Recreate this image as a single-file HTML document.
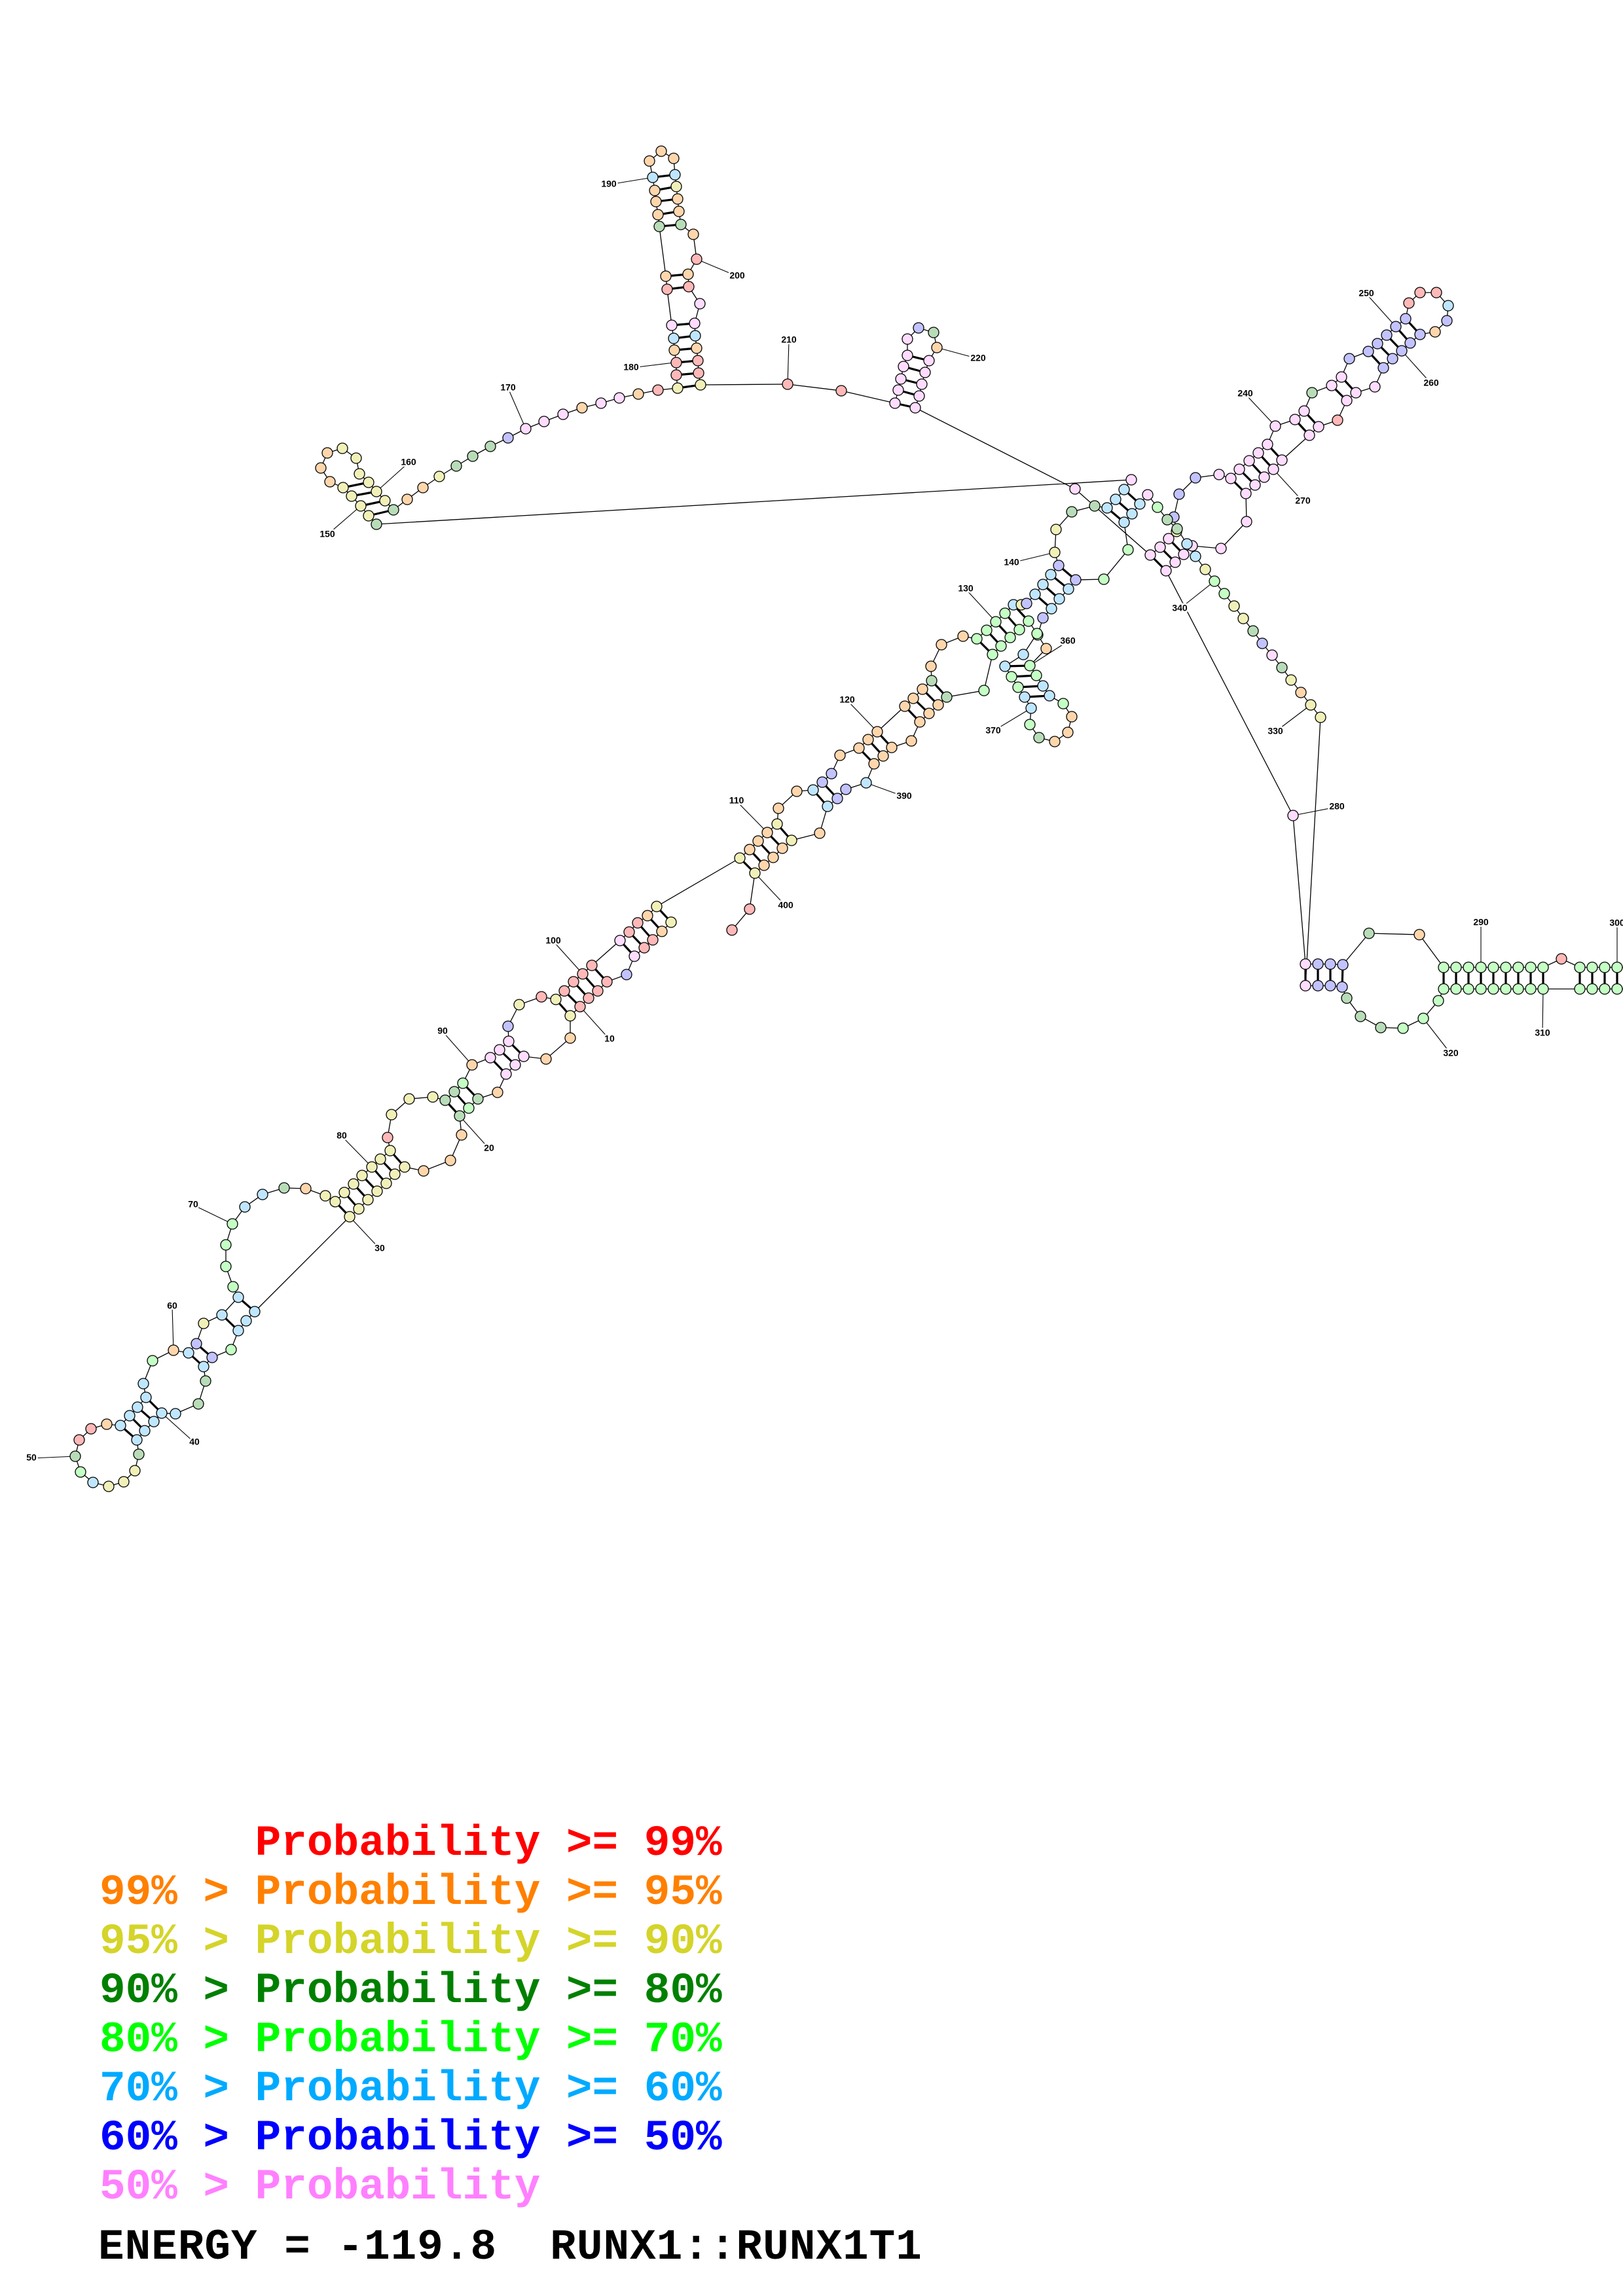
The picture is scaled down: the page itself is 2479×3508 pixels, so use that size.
<!DOCTYPE html>
<html><head><meta charset="utf-8">
<style>
html,body{margin:0;padding:0;background:#fff;}
body{width:2479px;height:3508px;position:relative;overflow:hidden;}
svg{position:absolute;left:0;top:0;}
.bb{fill:none;stroke:#000;stroke-width:1.3;}
.pr line,.pr{stroke:#000;stroke-width:3.2;}
.tk line{stroke:#000;stroke-width:1.1;}
circle{r:8px;stroke:#000;stroke-width:1.3;}
.r{fill:#ffb8b8}.o{fill:#ffd6ac}.y{fill:#f0f0b8}.d{fill:#b8dcb8}.g{fill:#c4ffc4}.c{fill:#bfe6ff}.b{fill:#c2c2ff}.p{fill:#ffdcff}
.lb text{font-family:"Liberation Sans",sans-serif;font-weight:bold;font-size:14px;text-anchor:middle;dominant-baseline:middle;stroke:#fff;stroke-width:5px;paint-order:stroke;fill:#000;}
.leg{position:absolute;font-family:"Liberation Mono",monospace;font-weight:bold;font-size:66px;line-height:66px;white-space:pre;}
</style></head><body>
<svg width="2479" height="3508" viewBox="0 0 2479 3508">
<polyline class="bb" points="1025,1409 1011,1423 997,1436 984,1448 969,1461 957,1489 927,1500 913,1514 899,1525 886,1538 871,1552 871,1586 834,1618 800,1614 787,1627 773,1641 760,1669 730,1679 716,1693 702,1705 705,1734 688,1773 647,1789 618,1783 603,1794 590,1808 576,1820 562,1833 548,1847 534,1859 389,2004 376,2018 364,2033 353,2062 324,2074 311,2088 314,2110 303,2145 268,2160 247,2159 235,2172 221,2186 209,2200 212,2222 206,2247 189,2264 166,2271 142,2265 123,2249 115,2225 121,2200 139,2183 163,2176 184,2178 198,2163 210,2150 223,2135 219,2114 233,2079 265,2063 288,2067 300,2053 311,2022 339,2009 364,1982 356,1966 345,1935 345,1902 355,1870 374,1844 401,1825 434,1815 467,1816 497,1827 512,1836 526,1822 540,1809 553,1796 568,1783 581,1771 596,1758 592,1738 598,1703 625,1679 661,1676 680,1681 694,1668 707,1655 721,1627 749,1616 763,1604 777,1591 776,1568 793,1535 827,1523 849,1527 862,1514 876,1500 890,1488 904,1475 947,1437 961,1424 974,1410 989,1399 1003,1385 1130,1311 1145,1298 1158,1285 1172,1272 1187,1259 1189,1235 1217,1209 1242,1207 1256,1195 1270,1182 1283,1154 1312,1143 1326,1130 1340,1118 1382,1079 1395,1067 1409,1053 1423,1040 1422,1018 1438,985 1471,972 1492,976 1507,963 1521,950 1535,937 1548,924 1560,924 1568,922 1581,908 1593,893 1605,878 1617,864 1611,844 1613,809 1637,782 1672,773 1691,776 1704,763 1717,748 1728,733 575,801 563,788 551,773 537,758 524,745 504,736 490,715 500,692 523,685 544,700 549,724 563,737 575,751 588,765 601,779 622,763 646,745 671,728 697,712 722,697 749,682 776,669 803,655 831,644 860,633 889,623 918,616 946,608 975,602 1005,596 1035,593 1033,573 1033,554 1030,535 1029,517 1026,497 1019,442 1017,422 1007,346 1005,328 1002,308 1000,291 997,271 992,246 1010,231 1029,242 1031,267 1033,285 1035,304 1037,323 1040,343 1059,358 1064,396 1051,419 1052,438 1069,464 1061,494 1062,513 1064,532 1066,551 1067,570 1070,588 1203,587 1285,597 1367,616 1372,596 1376,579 1380,560 1386,543 1386,518 1403,501 1426,508 1431,531 1419,551 1413,569 1408,587 1404,605 1398,623 1642,747 1757,848 1772,836 1785,823 1797,812 1793,790 1801,755 1826,730 1862,725 1880,731 1893,717 1908,704 1922,692 1936,679 1948,651 1978,641 1992,628 2004,600 2034,589 2049,576 2061,548 2090,537 2104,525 2118,512 2132,499 2147,487 2152,463 2169,447 2194,447 2212,467 2210,490 2192,507 2169,511 2154,524 2141,536 2127,548 2113,562 2100,591 2071,600 2057,612 2043,642 2014,652 2000,665 1958,703 1945,717 1931,729 1917,741 1903,754 1904,797 1865,838 1821,834 1808,847 1795,859 1781,872 1975,1246 1994,1473 2013,1473 2032,1473 2051,1474 2091,1426 2168,1428 2205,1478 2224,1478 2243,1478 2262,1478 2281,1478 2300,1478 2319,1478 2338,1478 2357,1478 2385,1465 2413,1478 2432,1478 2451,1478 2470,1478 2490,1478 2490,1511 2470,1511 2451,1511 2432,1511 2413,1511 2357,1511 2338,1511 2319,1511 2300,1511 2281,1511 2262,1511 2243,1511 2224,1511 2205,1511 2197,1529 2174,1556 2143,1571 2109,1570 2078,1553 2057,1525 2050,1508 2032,1506 2013,1506 1994,1506 2017,1096 2002,1077 1987,1058 1972,1039 1958,1020 1943,1001 1928,983 1914,964 1899,945 1885,926 1870,907 1855,888 1841,870 1826,850 1813,831 1798,808 1783,794 1768,775 1753,756 1741,770 1729,785 1717,798 1723,840 1686,885 1643,886 1632,900 1618,915 1606,930 1593,944 1585,970 1598,991 1573,1017 1583,1032 1593,1048 1603,1063 1624,1075 1637,1095 1631,1119 1611,1133 1587,1127 1573,1107 1575,1082 1565,1065 1555,1050 1545,1034 1535,1018 1563,1000 1584,968 1571,949 1557,962 1543,974 1529,987 1516,1000 1503,1055 1446,1065 1433,1077 1419,1090 1405,1103 1392,1132 1362,1142 1349,1155 1335,1167 1323,1196 1292,1206 1279,1220 1264,1232 1252,1273 1209,1284 1195,1296 1181,1310 1167,1322 1153,1334 1145,1389 1118,1421"/>
<g class="pr">
<line x1="1025" y1="1409" x2="1003" y2="1385"/><line x1="1011" y1="1423" x2="989" y2="1399"/><line x1="997" y1="1436" x2="974" y2="1410"/><line x1="984" y1="1448" x2="961" y2="1424"/><line x1="969" y1="1461" x2="947" y2="1437"/>
<line x1="184" y1="2178" x2="209" y2="2200"/><line x1="198" y1="2163" x2="221" y2="2186"/><line x1="210" y1="2150" x2="235" y2="2172"/><line x1="223" y1="2135" x2="247" y2="2159"/>
<line x1="288" y1="2067" x2="311" y2="2088"/><line x1="300" y1="2053" x2="324" y2="2074"/><line x1="339" y1="2009" x2="364" y2="2033"/><line x1="364" y1="1982" x2="389" y2="2004"/>
<line x1="512" y1="1836" x2="534" y2="1859"/><line x1="526" y1="1822" x2="548" y2="1847"/><line x1="540" y1="1809" x2="562" y2="1833"/><line x1="553" y1="1796" x2="576" y2="1820"/><line x1="568" y1="1783" x2="590" y2="1808"/><line x1="581" y1="1771" x2="603" y2="1794"/><line x1="596" y1="1758" x2="618" y2="1783"/>
<line x1="680" y1="1681" x2="702" y2="1705"/><line x1="694" y1="1668" x2="716" y2="1693"/><line x1="707" y1="1655" x2="730" y2="1679"/>
<line x1="749" y1="1616" x2="773" y2="1641"/><line x1="763" y1="1604" x2="787" y2="1627"/><line x1="777" y1="1591" x2="800" y2="1614"/>
<line x1="849" y1="1527" x2="871" y2="1552"/><line x1="862" y1="1514" x2="886" y2="1538"/><line x1="876" y1="1500" x2="899" y2="1525"/><line x1="890" y1="1488" x2="913" y2="1514"/><line x1="904" y1="1475" x2="927" y2="1500"/>
<line x1="1130" y1="1311" x2="1153" y2="1334"/><line x1="1145" y1="1298" x2="1167" y2="1322"/><line x1="1158" y1="1285" x2="1181" y2="1310"/><line x1="1172" y1="1272" x2="1195" y2="1296"/><line x1="1187" y1="1259" x2="1209" y2="1284"/>
<line x1="1242" y1="1207" x2="1264" y2="1232"/><line x1="1256" y1="1195" x2="1279" y2="1220"/>
<line x1="1312" y1="1143" x2="1335" y2="1167"/><line x1="1326" y1="1130" x2="1349" y2="1155"/><line x1="1340" y1="1118" x2="1362" y2="1142"/>
<line x1="1382" y1="1079" x2="1405" y2="1103"/><line x1="1395" y1="1067" x2="1419" y2="1090"/><line x1="1409" y1="1053" x2="1433" y2="1077"/><line x1="1423" y1="1040" x2="1446" y2="1065"/>
<line x1="1492" y1="976" x2="1516" y2="1000"/><line x1="1507" y1="963" x2="1529" y2="987"/><line x1="1521" y1="950" x2="1543" y2="974"/><line x1="1535" y1="937" x2="1557" y2="962"/><line x1="1548" y1="924" x2="1571" y2="949"/>
<line x1="1581" y1="908" x2="1606" y2="930"/><line x1="1593" y1="893" x2="1618" y2="915"/><line x1="1605" y1="878" x2="1632" y2="900"/><line x1="1617" y1="864" x2="1643" y2="886"/>
<line x1="1691" y1="776" x2="1717" y2="798"/><line x1="1704" y1="763" x2="1729" y2="785"/><line x1="1717" y1="748" x2="1741" y2="770"/>
<line x1="1535" y1="1018" x2="1573" y2="1017"/><line x1="1545" y1="1034" x2="1583" y2="1032"/><line x1="1555" y1="1050" x2="1593" y2="1048"/><line x1="1565" y1="1065" x2="1603" y2="1063"/>
<line x1="524" y1="745" x2="563" y2="737"/><line x1="537" y1="758" x2="575" y2="751"/><line x1="551" y1="773" x2="588" y2="765"/><line x1="563" y1="788" x2="601" y2="779"/>
<line x1="1035" y1="593" x2="1070" y2="588"/><line x1="1033" y1="573" x2="1067" y2="570"/><line x1="1033" y1="554" x2="1066" y2="551"/><line x1="1030" y1="535" x2="1064" y2="532"/><line x1="1029" y1="517" x2="1062" y2="513"/><line x1="1026" y1="497" x2="1061" y2="494"/>
<line x1="1019" y1="442" x2="1052" y2="438"/><line x1="1017" y1="422" x2="1051" y2="419"/>
<line x1="1007" y1="346" x2="1040" y2="343"/><line x1="1005" y1="328" x2="1037" y2="323"/><line x1="1002" y1="308" x2="1035" y2="304"/><line x1="1000" y1="291" x2="1033" y2="285"/><line x1="997" y1="271" x2="1031" y2="267"/>
<line x1="1367" y1="616" x2="1398" y2="623"/><line x1="1372" y1="596" x2="1404" y2="605"/><line x1="1376" y1="579" x2="1408" y2="587"/><line x1="1380" y1="560" x2="1413" y2="569"/><line x1="1386" y1="543" x2="1419" y2="551"/>
<line x1="1757" y1="848" x2="1781" y2="872"/><line x1="1772" y1="836" x2="1795" y2="859"/><line x1="1785" y1="823" x2="1808" y2="847"/>
<line x1="1880" y1="731" x2="1903" y2="754"/><line x1="1893" y1="717" x2="1917" y2="741"/><line x1="1908" y1="704" x2="1931" y2="729"/><line x1="1922" y1="692" x2="1945" y2="717"/><line x1="1936" y1="679" x2="1958" y2="703"/>
<line x1="1978" y1="641" x2="2000" y2="665"/><line x1="1992" y1="628" x2="2014" y2="652"/><line x1="2034" y1="589" x2="2057" y2="612"/><line x1="2049" y1="576" x2="2071" y2="600"/>
<line x1="2090" y1="537" x2="2113" y2="562"/><line x1="2104" y1="525" x2="2127" y2="548"/><line x1="2118" y1="512" x2="2141" y2="536"/><line x1="2132" y1="499" x2="2154" y2="524"/><line x1="2147" y1="487" x2="2169" y2="511"/>
<line x1="1994" y1="1473" x2="1994" y2="1506"/><line x1="2013" y1="1473" x2="2013" y2="1506"/><line x1="2032" y1="1473" x2="2032" y2="1506"/><line x1="2051" y1="1474" x2="2050" y2="1508"/>
<line x1="2205" y1="1478" x2="2205" y2="1511"/><line x1="2224" y1="1478" x2="2224" y2="1511"/><line x1="2243" y1="1478" x2="2243" y2="1511"/><line x1="2262" y1="1478" x2="2262" y2="1511"/><line x1="2281" y1="1478" x2="2281" y2="1511"/><line x1="2300" y1="1478" x2="2300" y2="1511"/><line x1="2319" y1="1478" x2="2319" y2="1511"/><line x1="2338" y1="1478" x2="2338" y2="1511"/><line x1="2357" y1="1478" x2="2357" y2="1511"/>
<line x1="2413" y1="1478" x2="2413" y2="1511"/><line x1="2432" y1="1478" x2="2432" y2="1511"/><line x1="2451" y1="1478" x2="2451" y2="1511"/><line x1="2470" y1="1478" x2="2470" y2="1511"/>
</g>
<g class="tk">
<line x1="931" y1="1588" x2="886" y2="1538"/><line x1="747" y1="1755" x2="702" y2="1705"/><line x1="580" y1="1908" x2="534" y2="1859"/><line x1="297" y1="2204" x2="247" y2="2159"/><line x1="48" y1="2228" x2="115" y2="2225"/><line x1="263" y1="1996" x2="265" y2="2063"/><line x1="295" y1="1841" x2="355" y2="1870"/><line x1="522" y1="1736" x2="568" y2="1783"/><line x1="676" y1="1576" x2="721" y2="1627"/><line x1="845" y1="1438" x2="890" y2="1488"/><line x1="1125" y1="1224" x2="1172" y2="1272"/><line x1="1294" y1="1070" x2="1340" y2="1118"/><line x1="1475" y1="900" x2="1521" y2="950"/><line x1="1545" y1="860" x2="1611" y2="844"/><line x1="500" y1="817" x2="551" y2="773"/><line x1="624" y1="707" x2="575" y2="751"/><line x1="776" y1="593" x2="803" y2="655"/><line x1="964" y1="562" x2="1030" y2="554"/><line x1="930" y1="282" x2="997" y2="271"/><line x1="1126" y1="422" x2="1064" y2="396"/><line x1="1205" y1="520" x2="1203" y2="587"/><line x1="1494" y1="548" x2="1431" y2="531"/><line x1="1902" y1="602" x2="1948" y2="651"/><line x1="2087" y1="449" x2="2132" y2="499"/><line x1="2186" y1="586" x2="2141" y2="536"/><line x1="1990" y1="766" x2="1945" y2="717"/><line x1="2042" y1="1233" x2="1975" y2="1246"/><line x1="2262" y1="1410" x2="2262" y2="1478"/><line x1="2470" y1="1411" x2="2470" y2="1478"/><line x1="2356" y1="1579" x2="2357" y2="1511"/><line x1="2216" y1="1610" x2="2174" y2="1556"/><line x1="1948" y1="1118" x2="2002" y2="1077"/><line x1="1802" y1="930" x2="1855" y2="888"/><line x1="1631" y1="980" x2="1573" y2="1017"/><line x1="1517" y1="1117" x2="1575" y2="1082"/><line x1="1381" y1="1217" x2="1323" y2="1196"/><line x1="1200" y1="1384" x2="1153" y2="1334"/>
</g>
<g>
<circle cx="1025" cy="1409" class="y"/><circle cx="1011" cy="1423" class="o"/><circle cx="997" cy="1436" class="r"/><circle cx="984" cy="1448" class="r"/><circle cx="969" cy="1461" class="p"/><circle cx="957" cy="1489" class="b"/><circle cx="927" cy="1500" class="r"/><circle cx="913" cy="1514" class="r"/><circle cx="899" cy="1525" class="r"/><circle cx="886" cy="1538" class="r"/>
<circle cx="871" cy="1552" class="y"/><circle cx="871" cy="1586" class="o"/><circle cx="834" cy="1618" class="o"/><circle cx="800" cy="1614" class="p"/><circle cx="787" cy="1627" class="p"/><circle cx="773" cy="1641" class="p"/><circle cx="760" cy="1669" class="o"/><circle cx="730" cy="1679" class="d"/><circle cx="716" cy="1693" class="g"/><circle cx="702" cy="1705" class="d"/>
<circle cx="705" cy="1734" class="o"/><circle cx="688" cy="1773" class="o"/><circle cx="647" cy="1789" class="o"/><circle cx="618" cy="1783" class="y"/><circle cx="603" cy="1794" class="y"/><circle cx="590" cy="1808" class="y"/><circle cx="576" cy="1820" class="y"/><circle cx="562" cy="1833" class="y"/><circle cx="548" cy="1847" class="y"/><circle cx="534" cy="1859" class="y"/>
<circle cx="389" cy="2004" class="c"/><circle cx="376" cy="2018" class="c"/><circle cx="364" cy="2033" class="c"/><circle cx="353" cy="2062" class="g"/><circle cx="324" cy="2074" class="b"/><circle cx="311" cy="2088" class="c"/><circle cx="314" cy="2110" class="d"/><circle cx="303" cy="2145" class="d"/><circle cx="268" cy="2160" class="c"/><circle cx="247" cy="2159" class="c"/>
<circle cx="235" cy="2172" class="c"/><circle cx="221" cy="2186" class="c"/><circle cx="209" cy="2200" class="c"/><circle cx="212" cy="2222" class="d"/><circle cx="206" cy="2247" class="y"/><circle cx="189" cy="2264" class="y"/><circle cx="166" cy="2271" class="y"/><circle cx="142" cy="2265" class="c"/><circle cx="123" cy="2249" class="g"/><circle cx="115" cy="2225" class="d"/>
<circle cx="121" cy="2200" class="r"/><circle cx="139" cy="2183" class="r"/><circle cx="163" cy="2176" class="o"/><circle cx="184" cy="2178" class="c"/><circle cx="198" cy="2163" class="c"/><circle cx="210" cy="2150" class="c"/><circle cx="223" cy="2135" class="c"/><circle cx="219" cy="2114" class="c"/><circle cx="233" cy="2079" class="g"/><circle cx="265" cy="2063" class="o"/>
<circle cx="288" cy="2067" class="c"/><circle cx="300" cy="2053" class="b"/><circle cx="311" cy="2022" class="y"/><circle cx="339" cy="2009" class="c"/><circle cx="364" cy="1982" class="c"/><circle cx="356" cy="1966" class="g"/><circle cx="345" cy="1935" class="g"/><circle cx="345" cy="1902" class="g"/><circle cx="355" cy="1870" class="g"/><circle cx="374" cy="1844" class="c"/>
<circle cx="401" cy="1825" class="c"/><circle cx="434" cy="1815" class="d"/><circle cx="467" cy="1816" class="o"/><circle cx="497" cy="1827" class="y"/><circle cx="512" cy="1836" class="y"/><circle cx="526" cy="1822" class="y"/><circle cx="540" cy="1809" class="y"/><circle cx="553" cy="1796" class="y"/><circle cx="568" cy="1783" class="y"/><circle cx="581" cy="1771" class="y"/>
<circle cx="596" cy="1758" class="y"/><circle cx="592" cy="1738" class="r"/><circle cx="598" cy="1703" class="y"/><circle cx="625" cy="1679" class="y"/><circle cx="661" cy="1676" class="y"/><circle cx="680" cy="1681" class="d"/><circle cx="694" cy="1668" class="d"/><circle cx="707" cy="1655" class="g"/><circle cx="721" cy="1627" class="o"/><circle cx="749" cy="1616" class="p"/>
<circle cx="763" cy="1604" class="p"/><circle cx="777" cy="1591" class="p"/><circle cx="776" cy="1568" class="b"/><circle cx="793" cy="1535" class="y"/><circle cx="827" cy="1523" class="r"/><circle cx="849" cy="1527" class="y"/><circle cx="862" cy="1514" class="r"/><circle cx="876" cy="1500" class="r"/><circle cx="890" cy="1488" class="r"/><circle cx="904" cy="1475" class="r"/>
<circle cx="947" cy="1437" class="p"/><circle cx="961" cy="1424" class="r"/><circle cx="974" cy="1410" class="r"/><circle cx="989" cy="1399" class="o"/><circle cx="1003" cy="1385" class="y"/>
<circle cx="1130" cy="1311" class="y"/><circle cx="1145" cy="1298" class="o"/><circle cx="1158" cy="1285" class="o"/><circle cx="1172" cy="1272" class="o"/><circle cx="1187" cy="1259" class="y"/><circle cx="1189" cy="1235" class="o"/><circle cx="1217" cy="1209" class="o"/><circle cx="1242" cy="1207" class="c"/><circle cx="1256" cy="1195" class="b"/><circle cx="1270" cy="1182" class="b"/>
<circle cx="1283" cy="1154" class="o"/><circle cx="1312" cy="1143" class="o"/><circle cx="1326" cy="1130" class="o"/><circle cx="1340" cy="1118" class="o"/><circle cx="1382" cy="1079" class="o"/><circle cx="1395" cy="1067" class="o"/><circle cx="1409" cy="1053" class="o"/><circle cx="1423" cy="1040" class="d"/><circle cx="1422" cy="1018" class="o"/><circle cx="1438" cy="985" class="o"/>
<circle cx="1471" cy="972" class="o"/><circle cx="1492" cy="976" class="g"/><circle cx="1507" cy="963" class="g"/><circle cx="1521" cy="950" class="g"/><circle cx="1535" cy="937" class="g"/><circle cx="1548" cy="924" class="c"/><circle cx="1560" cy="924" class="y"/><circle cx="1568" cy="922" class="b"/><circle cx="1581" cy="908" class="c"/><circle cx="1593" cy="893" class="c"/>
<circle cx="1605" cy="878" class="c"/><circle cx="1617" cy="864" class="b"/><circle cx="1611" cy="844" class="y"/><circle cx="1613" cy="809" class="y"/><circle cx="1637" cy="782" class="d"/><circle cx="1672" cy="773" class="d"/><circle cx="1691" cy="776" class="c"/><circle cx="1704" cy="763" class="c"/><circle cx="1717" cy="748" class="c"/><circle cx="1728" cy="733" class="p"/>
<circle cx="575" cy="801" class="d"/><circle cx="563" cy="788" class="y"/><circle cx="551" cy="773" class="y"/><circle cx="537" cy="758" class="y"/><circle cx="524" cy="745" class="y"/><circle cx="504" cy="736" class="o"/><circle cx="490" cy="715" class="o"/><circle cx="500" cy="692" class="o"/><circle cx="523" cy="685" class="y"/><circle cx="544" cy="700" class="y"/>
<circle cx="549" cy="724" class="y"/><circle cx="563" cy="737" class="y"/><circle cx="575" cy="751" class="y"/><circle cx="588" cy="765" class="y"/><circle cx="601" cy="779" class="d"/><circle cx="622" cy="763" class="o"/><circle cx="646" cy="745" class="o"/><circle cx="671" cy="728" class="y"/><circle cx="697" cy="712" class="d"/><circle cx="722" cy="697" class="d"/>
<circle cx="749" cy="682" class="d"/><circle cx="776" cy="669" class="b"/><circle cx="803" cy="655" class="p"/><circle cx="831" cy="644" class="p"/><circle cx="860" cy="633" class="p"/><circle cx="889" cy="623" class="o"/><circle cx="918" cy="616" class="p"/><circle cx="946" cy="608" class="p"/><circle cx="975" cy="602" class="o"/><circle cx="1005" cy="596" class="r"/>
<circle cx="1035" cy="593" class="y"/><circle cx="1033" cy="573" class="r"/><circle cx="1033" cy="554" class="r"/><circle cx="1030" cy="535" class="o"/><circle cx="1029" cy="517" class="c"/><circle cx="1026" cy="497" class="p"/><circle cx="1019" cy="442" class="r"/><circle cx="1017" cy="422" class="o"/><circle cx="1007" cy="346" class="d"/><circle cx="1005" cy="328" class="o"/>
<circle cx="1002" cy="308" class="o"/><circle cx="1000" cy="291" class="o"/><circle cx="997" cy="271" class="c"/><circle cx="992" cy="246" class="o"/><circle cx="1010" cy="231" class="o"/><circle cx="1029" cy="242" class="o"/><circle cx="1031" cy="267" class="c"/><circle cx="1033" cy="285" class="y"/><circle cx="1035" cy="304" class="o"/><circle cx="1037" cy="323" class="o"/>
<circle cx="1040" cy="343" class="d"/><circle cx="1059" cy="358" class="o"/><circle cx="1064" cy="396" class="r"/><circle cx="1051" cy="419" class="o"/><circle cx="1052" cy="438" class="r"/><circle cx="1069" cy="464" class="p"/><circle cx="1061" cy="494" class="p"/><circle cx="1062" cy="513" class="c"/><circle cx="1064" cy="532" class="o"/><circle cx="1066" cy="551" class="r"/>
<circle cx="1067" cy="570" class="r"/><circle cx="1070" cy="588" class="y"/><circle cx="1203" cy="587" class="r"/><circle cx="1285" cy="597" class="r"/><circle cx="1367" cy="616" class="p"/><circle cx="1372" cy="596" class="p"/><circle cx="1376" cy="579" class="p"/><circle cx="1380" cy="560" class="p"/><circle cx="1386" cy="543" class="p"/><circle cx="1386" cy="518" class="p"/>
<circle cx="1403" cy="501" class="b"/><circle cx="1426" cy="508" class="d"/><circle cx="1431" cy="531" class="o"/><circle cx="1419" cy="551" class="p"/><circle cx="1413" cy="569" class="p"/><circle cx="1408" cy="587" class="p"/><circle cx="1404" cy="605" class="p"/><circle cx="1398" cy="623" class="p"/>
<circle cx="1642" cy="747" class="p"/><circle cx="1757" cy="848" class="p"/><circle cx="1772" cy="836" class="p"/><circle cx="1785" cy="823" class="p"/><circle cx="1797" cy="812" class="y"/><circle cx="1793" cy="790" class="b"/><circle cx="1801" cy="755" class="b"/><circle cx="1826" cy="730" class="b"/><circle cx="1862" cy="725" class="p"/><circle cx="1880" cy="731" class="p"/>
<circle cx="1893" cy="717" class="p"/><circle cx="1908" cy="704" class="p"/><circle cx="1922" cy="692" class="p"/><circle cx="1936" cy="679" class="p"/><circle cx="1948" cy="651" class="p"/><circle cx="1978" cy="641" class="p"/><circle cx="1992" cy="628" class="p"/><circle cx="2004" cy="600" class="d"/><circle cx="2034" cy="589" class="p"/><circle cx="2049" cy="576" class="p"/>
<circle cx="2061" cy="548" class="b"/><circle cx="2090" cy="537" class="b"/><circle cx="2104" cy="525" class="b"/><circle cx="2118" cy="512" class="b"/><circle cx="2132" cy="499" class="b"/><circle cx="2147" cy="487" class="b"/><circle cx="2152" cy="463" class="r"/><circle cx="2169" cy="447" class="r"/><circle cx="2194" cy="447" class="r"/><circle cx="2212" cy="467" class="c"/>
<circle cx="2210" cy="490" class="b"/><circle cx="2192" cy="507" class="o"/><circle cx="2169" cy="511" class="b"/><circle cx="2154" cy="524" class="b"/><circle cx="2141" cy="536" class="b"/><circle cx="2127" cy="548" class="b"/><circle cx="2113" cy="562" class="b"/><circle cx="2100" cy="591" class="p"/><circle cx="2071" cy="600" class="p"/><circle cx="2057" cy="612" class="p"/>
<circle cx="2043" cy="642" class="r"/><circle cx="2014" cy="652" class="p"/><circle cx="2000" cy="665" class="p"/><circle cx="1958" cy="703" class="p"/><circle cx="1945" cy="717" class="p"/><circle cx="1931" cy="729" class="p"/><circle cx="1917" cy="741" class="p"/><circle cx="1903" cy="754" class="p"/><circle cx="1904" cy="797" class="p"/><circle cx="1865" cy="838" class="p"/>
<circle cx="1821" cy="834" class="p"/><circle cx="1808" cy="847" class="p"/><circle cx="1795" cy="859" class="p"/><circle cx="1781" cy="872" class="p"/><circle cx="1975" cy="1246" class="p"/>
<circle cx="1994" cy="1473" class="p"/><circle cx="2013" cy="1473" class="b"/><circle cx="2032" cy="1473" class="b"/><circle cx="2051" cy="1474" class="b"/><circle cx="2091" cy="1426" class="d"/><circle cx="2168" cy="1428" class="o"/>
<circle cx="2205" cy="1478" class="g"/><circle cx="2224" cy="1478" class="g"/><circle cx="2243" cy="1478" class="g"/><circle cx="2262" cy="1478" class="g"/><circle cx="2281" cy="1478" class="g"/><circle cx="2300" cy="1478" class="g"/><circle cx="2319" cy="1478" class="g"/><circle cx="2338" cy="1478" class="g"/><circle cx="2357" cy="1478" class="g"/><circle cx="2385" cy="1465" class="r"/>
<circle cx="2413" cy="1478" class="g"/><circle cx="2432" cy="1478" class="g"/><circle cx="2451" cy="1478" class="g"/><circle cx="2470" cy="1478" class="g"/>
<circle cx="2470" cy="1511" class="g"/><circle cx="2451" cy="1511" class="g"/><circle cx="2432" cy="1511" class="g"/><circle cx="2413" cy="1511" class="g"/>
<circle cx="2357" cy="1511" class="g"/><circle cx="2338" cy="1511" class="g"/><circle cx="2319" cy="1511" class="g"/><circle cx="2300" cy="1511" class="g"/><circle cx="2281" cy="1511" class="g"/><circle cx="2262" cy="1511" class="g"/><circle cx="2243" cy="1511" class="g"/><circle cx="2224" cy="1511" class="g"/><circle cx="2205" cy="1511" class="g"/>
<circle cx="2197" cy="1529" class="g"/><circle cx="2174" cy="1556" class="g"/><circle cx="2143" cy="1571" class="g"/><circle cx="2109" cy="1570" class="d"/><circle cx="2078" cy="1553" class="d"/><circle cx="2057" cy="1525" class="d"/><circle cx="2050" cy="1508" class="b"/><circle cx="2032" cy="1506" class="b"/><circle cx="2013" cy="1506" class="b"/><circle cx="1994" cy="1506" class="p"/>
<circle cx="2017" cy="1096" class="y"/><circle cx="2002" cy="1077" class="y"/><circle cx="1987" cy="1058" class="o"/><circle cx="1972" cy="1039" class="y"/><circle cx="1958" cy="1020" class="d"/><circle cx="1943" cy="1001" class="p"/><circle cx="1928" cy="983" class="b"/><circle cx="1914" cy="964" class="d"/><circle cx="1899" cy="945" class="y"/><circle cx="1885" cy="926" class="y"/>
<circle cx="1870" cy="907" class="g"/><circle cx="1855" cy="888" class="g"/><circle cx="1841" cy="870" class="y"/><circle cx="1826" cy="850" class="c"/><circle cx="1813" cy="831" class="c"/><circle cx="1798" cy="808" class="d"/><circle cx="1783" cy="794" class="d"/><circle cx="1768" cy="775" class="g"/><circle cx="1753" cy="756" class="p"/><circle cx="1741" cy="770" class="c"/>
<circle cx="1729" cy="785" class="c"/><circle cx="1717" cy="798" class="c"/><circle cx="1723" cy="840" class="g"/><circle cx="1686" cy="885" class="g"/><circle cx="1643" cy="886" class="b"/><circle cx="1632" cy="900" class="c"/><circle cx="1618" cy="915" class="c"/><circle cx="1606" cy="930" class="c"/><circle cx="1593" cy="944" class="b"/><circle cx="1585" cy="970" class="g"/>
<circle cx="1598" cy="991" class="o"/><circle cx="1573" cy="1017" class="g"/><circle cx="1583" cy="1032" class="g"/><circle cx="1593" cy="1048" class="c"/><circle cx="1603" cy="1063" class="c"/><circle cx="1624" cy="1075" class="g"/><circle cx="1637" cy="1095" class="o"/><circle cx="1631" cy="1119" class="o"/><circle cx="1611" cy="1133" class="o"/><circle cx="1587" cy="1127" class="d"/>
<circle cx="1573" cy="1107" class="g"/><circle cx="1575" cy="1082" class="c"/><circle cx="1565" cy="1065" class="c"/><circle cx="1555" cy="1050" class="g"/><circle cx="1545" cy="1034" class="g"/><circle cx="1535" cy="1018" class="c"/><circle cx="1563" cy="1000" class="c"/><circle cx="1584" cy="968" class="g"/><circle cx="1571" cy="949" class="g"/><circle cx="1557" cy="962" class="g"/>
<circle cx="1543" cy="974" class="g"/><circle cx="1529" cy="987" class="g"/><circle cx="1516" cy="1000" class="g"/><circle cx="1503" cy="1055" class="g"/><circle cx="1446" cy="1065" class="d"/><circle cx="1433" cy="1077" class="o"/><circle cx="1419" cy="1090" class="o"/><circle cx="1405" cy="1103" class="o"/><circle cx="1392" cy="1132" class="o"/><circle cx="1362" cy="1142" class="o"/>
<circle cx="1349" cy="1155" class="o"/><circle cx="1335" cy="1167" class="o"/><circle cx="1323" cy="1196" class="c"/><circle cx="1292" cy="1206" class="b"/><circle cx="1279" cy="1220" class="b"/><circle cx="1264" cy="1232" class="c"/><circle cx="1252" cy="1273" class="o"/><circle cx="1209" cy="1284" class="y"/><circle cx="1195" cy="1296" class="o"/><circle cx="1181" cy="1310" class="o"/>
<circle cx="1167" cy="1322" class="o"/><circle cx="1153" cy="1334" class="y"/><circle cx="1145" cy="1389" class="r"/><circle cx="1118" cy="1421" class="r"/>
</g>
<g class="lb">
<text x="931" y="1588">10</text><text x="747" y="1755">20</text><text x="580" y="1908">30</text><text x="297" y="2204">40</text><text x="48" y="2228">50</text><text x="263" y="1996">60</text><text x="295" y="1841">70</text><text x="522" y="1736">80</text><text x="676" y="1576">90</text><text x="845" y="1438">100</text><text x="1125" y="1224">110</text><text x="1294" y="1070">120</text><text x="1475" y="900">130</text><text x="1545" y="860">140</text><text x="500" y="817">150</text><text x="624" y="707">160</text><text x="776" y="593">170</text><text x="964" y="562">180</text><text x="930" y="282">190</text><text x="1126" y="422">200</text><text x="1205" y="520">210</text><text x="1494" y="548">220</text><text x="1902" y="602">240</text><text x="2087" y="449">250</text><text x="2186" y="586">260</text><text x="1990" y="766">270</text><text x="2042" y="1233">280</text><text x="2262" y="1410">290</text><text x="2470" y="1411">300</text><text x="2356" y="1579">310</text><text x="2216" y="1610">320</text><text x="1948" y="1118">330</text><text x="1802" y="930">340</text><text x="1631" y="980">360</text><text x="1517" y="1117">370</text><text x="1381" y="1217">390</text><text x="1200" y="1384">400</text>
</g>
</svg>
<div class="leg" style="left:152px;top:2784px;color:#ff0000">      Probability &gt;= 99%</div>
<div class="leg" style="left:152px;top:2859px;color:#ff8000">99% &gt; Probability &gt;= 95%</div>
<div class="leg" style="left:152px;top:2934px;color:#d4d42a">95% &gt; Probability &gt;= 90%</div>
<div class="leg" style="left:152px;top:3009px;color:#008000">90% &gt; Probability &gt;= 80%</div>
<div class="leg" style="left:152px;top:3084px;color:#00ff00">80% &gt; Probability &gt;= 70%</div>
<div class="leg" style="left:152px;top:3159px;color:#00aaff">70% &gt; Probability &gt;= 60%</div>
<div class="leg" style="left:152px;top:3234px;color:#0000ff">60% &gt; Probability &gt;= 50%</div>
<div class="leg" style="left:152px;top:3309px;color:#ff80ff">50% &gt; Probability</div>
<div class="leg" style="left:150px;top:3401px;color:#000;letter-spacing:1px">ENERGY = -119.8  RUNX1::RUNX1T1</div>
</body></html>
